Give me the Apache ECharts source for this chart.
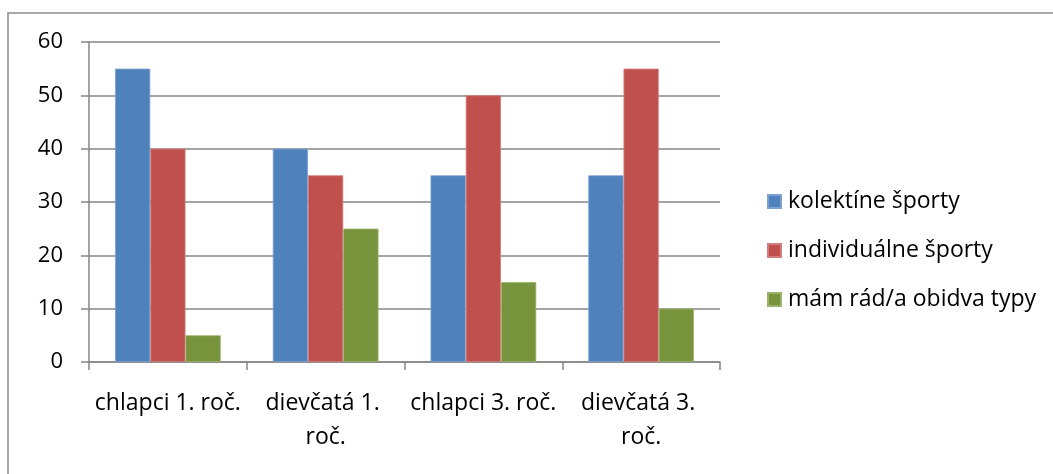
<!DOCTYPE html>
<html>
<head>
<meta charset="utf-8">
<script src="https://cdn.jsdelivr.net/npm/echarts@6/dist/echarts.min.js"></script>
<style>
  html, body { margin: 0; padding: 0; background: #ffffff; }
  #chart { width: 1053px; height: 474px; }
</style>
</head>
<body>
<div id="chart"></div>
<script>
// Skupiny žiakov a preferované druhy športu (v %)
const categories = ['chlapci 1. roč.', 'dievčatá 1. roč.', 'chlapci 3. roč.', 'dievčatá 3. roč.'];
const seriesNames = ['kolektíne športy', 'individuálne športy', 'mám rád/a obidva typy'];
const kolektivne = [55, 40, 35, 35];
const individualne = [40, 35, 50, 55];
const obidva = [5, 25, 15, 10];
const yTicks = { min: 0, max: 60, interval: 10 };

const colors = ['#4F81BD', '#C0504D', '#77933C'];
const borders = ['#7fa1cf', '#d27d7b', '#9bb36a'];
const FONT = 'Open Sans';
const GRID_GRAY = '#868686';

const chart = echarts.init(document.getElementById('chart'), null, { renderer: 'canvas' });

const values = [kolektivne, individualne, obidva];

chart.setOption({
  animation: false,
  backgroundColor: '#ffffff',
  textStyle: { fontFamily: FONT },
  graphic: [{
    type: 'rect',
    shape: { x: 8, y: 13, width: 1080, height: 500 },
    style: { fill: 'none', stroke: '#8c8c8c', lineWidth: 1.5 },
    silent: true,
    z: -1
  }],
  grid: { left: 89, right: 333, top: 42, bottom: 112, containLabel: false },
  legend: {
    orient: 'vertical',
    left: 762,
    top: 184,
    itemWidth: 13,
    itemHeight: 13,
    itemGap: 24,
    icon: 'rect',
    data: seriesNames,
    textStyle: { fontFamily: FONT, fontSize: 23, color: '#000', lineHeight: 25, padding: [0, 0, 0, 2] }
  },
  xAxis: {
    type: 'category',
    data: categories,
    axisLine: { show: true, lineStyle: { color: GRID_GRAY, width: 1.5 } },
    axisTick: { show: true, length: 8, alignWithLabel: false, lineStyle: { color: GRID_GRAY, width: 1.5 } },
    axisLabel: {
      interval: 0,
      margin: 24,
      fontFamily: FONT,
      fontSize: 23,
      color: '#000',
      lineHeight: 34,
      width: 161,
      overflow: 'break',
      align: 'center'
    },
    splitLine: { show: false }
  },
  yAxis: {
    type: 'value',
    min: yTicks.min,
    max: yTicks.max,
    interval: yTicks.interval,
    axisLine: { show: true, lineStyle: { color: GRID_GRAY, width: 1.5 } },
    axisTick: { show: true, length: 8, lineStyle: { color: GRID_GRAY, width: 1.5 } },
    axisLabel: { margin: 26, fontFamily: FONT, fontSize: 22, color: '#000' },
    splitLine: { show: true, lineStyle: { color: GRID_GRAY, width: 1.5 } }
  },
  series: seriesNames.map((name, i) => ({
    name,
    type: 'bar',
    data: values[i],
    barGap: '0%',
    barCategoryGap: '33%',
    itemStyle: { color: colors[i], borderColor: borders[i], borderWidth: 0.8 }
  }))
});
</script>
</body>
</html>
